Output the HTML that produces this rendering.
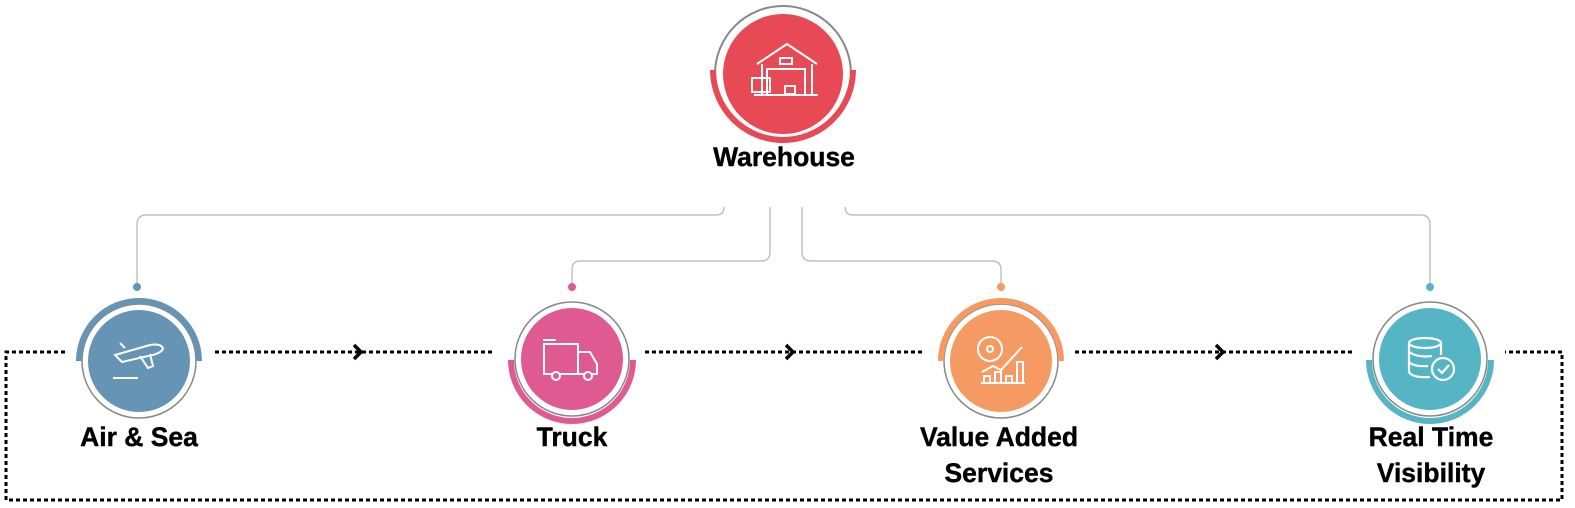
<!DOCTYPE html>
<html><head><meta charset="utf-8"><style>
html,body{margin:0;padding:0;background:#fff;}
svg{display:block;}
text{font-family:"Liberation Sans",Arial,sans-serif;font-weight:bold;fill:#000;font-size:26.5px;text-anchor:middle;stroke:#000;stroke-width:0.4;}
</style></head><body>
<svg width="1575" height="508" viewBox="0 0 1575 508" xmlns="http://www.w3.org/2000/svg">
<g fill="none" stroke="#b5b5b5" stroke-width="1.2">
<path d="M724 207 Q724 215 716 215 L146 215 Q137 215 137 225 L137 286"/>
<path d="M770 207 L770 252 Q770 261 761 261 L580 261 Q572 261 572 270 L572 286"/>
<path d="M802 207 L802 252 Q802 261 811 261 L992 261 Q1001 261 1001 270 L1001 286"/>
<path d="M845 207 Q845 215 853 215 L1421 215 Q1430 215 1430 225 L1430 286"/>
</g>
<circle cx="137" cy="287" r="4" fill="#6594b5"/>
<circle cx="572" cy="287" r="4" fill="#e05a92"/>
<circle cx="1001" cy="287" r="4" fill="#f59a63"/>
<circle cx="1430" cy="287" r="4" fill="#55b5c4"/>
<g fill="none" stroke="#000" stroke-width="3" stroke-dasharray="4 3">
<path d="M215 352 L495 352"/>
<path d="M645 352 L925 352"/>
<path d="M1075 352 L1355 352"/>
<path d="M65 352 L6 352 L6 500 L1562 500 L1562 352 L1505 352"/>
</g>
<g fill="none" stroke="#000" stroke-width="3.5">
<path d="M354 345 L361 352 L354 359"/>
<path d="M786 345 L793 352 L786 359"/>
<path d="M1216 345 L1223 352 L1216 359"/>
</g>
<circle cx="783" cy="74" r="68" fill="none" stroke="#888" stroke-width="2"/>
<path d="M713 70 A70 70 0 0 0 853 70" fill="none" stroke="#e84a55" stroke-width="6"/>
<circle cx="783" cy="74" r="60" fill="#e84a55"/>
<g fill="none" stroke="#fff" stroke-width="2">
<path d="M757 64 L787 44 L817 64"/><path d="M762 64 L762 95 M812 64 L812 95 M754 95 L818 95"/>
<rect x="780" y="58" width="12" height="6"/><rect x="767" y="69" width="38" height="26"/>
<rect x="752" y="78" width="18" height="14"/><rect x="785" y="86" width="10" height="8"/>
</g>
<text x="784" y="166">Warehouse</text>
<circle cx="139" cy="361" r="57" fill="none" stroke="#888" stroke-width="1.5"/>
<path d="M79 361 A60 60 0 0 1 199 361" fill="none" stroke="#6594b5" stroke-width="6"/>
<circle cx="139" cy="361" r="51" fill="#6594b5"/>
<g fill="none" stroke="#fff" stroke-width="2">
<path d="M115 355 L150 345 Q162 343 163 349 Q160 354 148 356 L122 362 Z"/><path d="M125 348 L120 343 M140 356 L148 368 L153 366 L150 354"/>
<path d="M113 378 L138 378"/></g>
<text x="139" y="446">Air &amp; Sea</text>
<circle cx="572" cy="359" r="57" fill="none" stroke="#888" stroke-width="1.5"/>
<path d="M511 360 A61 61 0 0 0 633 360" fill="none" stroke="#e05a92" stroke-width="6"/>
<circle cx="572" cy="359" r="51" fill="#e05a92"/>
<g fill="none" stroke="#fff" stroke-width="2">
<rect x="544" y="344" width="34" height="30"/><path d="M578 352 L590 352 L597 364 L597 374 L578 374"/>
<circle cx="556" cy="376" r="4" fill="#e05a92"/><circle cx="588" cy="376" r="4" fill="#e05a92"/><path d="M543 340 L556 340"/></g>
<text x="572" y="446">Truck</text>
<circle cx="1001" cy="361" r="57" fill="none" stroke="#888" stroke-width="1.5"/>
<path d="M941 361 A60 60 0 0 1 1061 361" fill="none" stroke="#f59a63" stroke-width="6"/>
<circle cx="1001" cy="361" r="51" fill="#f59a63"/>
<g fill="none" stroke="#fff" stroke-width="2">
<circle cx="990" cy="349" r="12"/><circle cx="990" cy="349" r="3"/>
<path d="M981 383 L1025 383 M984 383 L984 376 L990 376 L990 383 M995 383 L995 372 L1001 372 L1001 383 M1006 383 L1006 376 L1012 376 L1012 383 M1017 383 L1017 362 L1023 362 L1023 383 M982 372 L993 366 L1001 370 L1022 347"/></g>
<text x="999" y="446">Value Added</text>
<text x="999" y="482">Services</text>
<circle cx="1430" cy="359" r="57" fill="none" stroke="#888" stroke-width="1.5"/>
<path d="M1369 360 A61 61 0 0 0 1491 360" fill="none" stroke="#55b5c4" stroke-width="6"/>
<circle cx="1430" cy="359" r="51" fill="#55b5c4"/>
<g fill="none" stroke="#fff" stroke-width="2.2">
<ellipse cx="1425" cy="343" rx="16" ry="5"/><path d="M1409 343 L1409 372 Q1412 378 1430 377 M1441 343 L1441 355 M1409 352 Q1418 358 1432 356 M1409 362 Q1414 367 1428 366"/>
<circle cx="1443" cy="369" r="11"/><path d="M1438 369 L1442 373 L1449 365"/></g>
<text x="1431" y="446">Real Time</text>
<text x="1431" y="482">Visibility</text>
</svg>
</body></html>
